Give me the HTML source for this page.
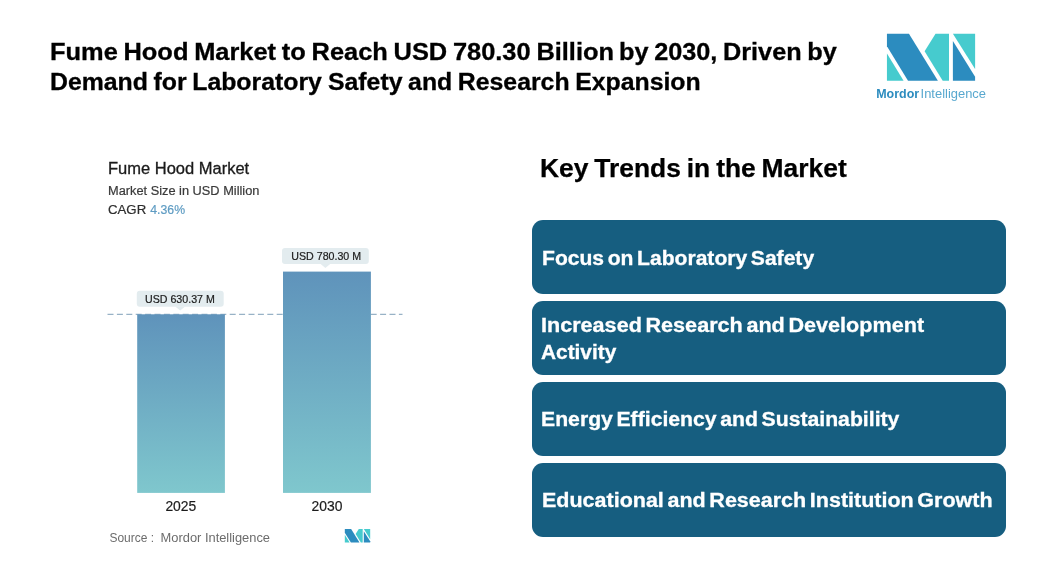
<!DOCTYPE html>
<html lang="en">
<head>
<meta charset="utf-8">
<title>Fume Hood Market</title>
<style>
*{margin:0;padding:0;box-sizing:border-box}
html,body{width:1047px;height:580px;background:#fff;overflow:hidden}
body{position:relative;font-family:"Liberation Sans",sans-serif;color:#000}
.abs{position:absolute;white-space:nowrap}
.ln{position:absolute;white-space:nowrap;transform-origin:0 0;display:block}
h1{font-size:23.3px;line-height:30px;font-weight:bold;color:#000;word-spacing:-1.2px;-webkit-text-stroke:0.3px #000}
#t1{left:49.6px;top:37.3px;transform:scaleX(1.0905)}
#t1b{left:618.5px;top:37.3px;transform:scaleX(1.0835)}
#t2{left:49.84px;top:66.5px;transform:scaleX(1.0654)}
#t2b{left:328.35px;top:66.5px;transform:scaleX(1.0651)}
#logo{left:870px;top:28px;width:130px;height:80px}
#c-title{left:107.5px;top:158.5px;font-size:16px;line-height:20px;color:#1a1a1a;-webkit-text-stroke:0.3px #1a1a1a;transform:scaleX(1.031)}
#c-sub{left:108.2px;top:183px;font-size:12px;line-height:16px;color:#3a3a3a;-webkit-text-stroke:0.2px #3a3a3a;transform:scaleX(1.066)}
#c-cagr{left:108.3px;top:202px;font-size:12.5px;line-height:16px;color:#2e2e2e;-webkit-text-stroke:0.2px #2e2e2e;transform:scaleX(1.058)}
#c-cagr b{font-weight:normal;color:#5f9cc3;-webkit-text-stroke:0.2px #5f9cc3;display:inline-block;transform-origin:0 0;transform:scaleX(0.925);margin-left:0.8px}
#chart{left:100px;top:235px;width:320px;height:320px}
h2{font-size:25.4px;line-height:32px;font-weight:bold;color:#000;word-spacing:-1.4px;-webkit-text-stroke:0.25px #000}
#kt{left:540.4px;top:151.5px;transform:scaleX(1.040)}
.box{position:absolute;left:532px;width:474px;height:73.6px;border-radius:11px;background:#165e80;color:#fff;font-weight:bold;font-size:19.6px;line-height:27.2px;-webkit-text-stroke:0.3px #fff;word-spacing:-2.1px}
.box .ln{left:9.2px}
#b1{top:220.2px}#b2{top:301.1px}#b3{top:382.2px}#b4{top:463.3px}
#b1 .ln{top:24.9px;left:9.6px;transform:scaleX(1.0763)}
#b2 .l1{top:11.1px;transform:scaleX(1.102)}
#b2 .l2{top:38.0px;transform:scaleX(1.063)}
#b3 .ln{top:23.7px;left:9.4px;transform:scaleX(1.0819)}
#b4 .ln{top:23.3px;left:9.5px;transform:scaleX(1.097)}
</style>
</head>
<body>
<h1><span class="ln" id="t1">Fume Hood Market to Reach USD 780.30 Billion </span><span class="ln" id="t1b">by 2030, Driven by</span><span class="ln" id="t2">Demand for Laboratory </span><span class="ln" id="t2b">Safety and Research Expansion</span></h1>

<svg id="logo" class="abs" viewBox="870 28 130 80">
  <polygon points="886.95,33.8 908.96,33.8 937.9,80.85 908,80.85 886.95,46.3" fill="#2c8cbf"/>
  <polygon points="886.95,53.6 903.6,80.85 886.95,80.85" fill="#46cbce"/>
  <polygon points="935.5,33.8 949,33.8 949,80.85 942.7,80.85 924.6,51.2" fill="#46cbce"/>
  <polygon points="952.9,33.8 975.1,33.8 975.1,69" fill="#46cbce"/>
  <polygon points="952.9,41 975.1,76.7 975.1,80.85 952.9,80.85" fill="#2c8cbf"/>
  <text id="lg1" x="876.2" y="97.5" font-family="Liberation Sans, sans-serif" font-size="13" font-weight="bold" fill="#2c8cbf" textLength="43" lengthAdjust="spacingAndGlyphs">Mordor</text>
  <text id="lg2" x="920.6" y="97.5" font-family="Liberation Sans, sans-serif" font-size="13" fill="#58a8cf" textLength="65.4" lengthAdjust="spacingAndGlyphs">Intelligence</text>
</svg>

<div id="c-title" class="ln">Fume Hood Market</div>
<div id="c-sub" class="ln">Market Size in USD Million</div>
<div id="c-cagr" class="ln">CAGR <b>4.36%</b></div>

<svg id="chart" class="abs" viewBox="100 235 320 320">
  <defs>
    <linearGradient id="g" x1="0" y1="0" x2="0" y2="1">
      <stop offset="0" stop-color="#5f93bb"/>
      <stop offset="1" stop-color="#7fc7cd"/>
    </linearGradient>
  </defs>
  <line x1="107.5" y1="314.3" x2="402.5" y2="314.3" stroke="#7f9fb8" stroke-width="1" stroke-dasharray="6 3.4"/>
  <rect x="137.2" y="314.3" width="87.7" height="178.6" fill="url(#g)"/>
  <rect x="283" y="271.6" width="87.9" height="221.3" fill="url(#g)"/>
  <rect x="136.8" y="290.7" width="86.9" height="16" rx="3" fill="#e3ecef"/>
  <polygon points="175.2,306.6 185.2,306.6 180.2,310.6" fill="#e3ecef"/>
  <rect x="282" y="248.1" width="86.8" height="16" rx="3" fill="#e3ecef"/>
  <polygon points="320.6,264 330.2,264 325.4,268" fill="#e3ecef"/>
  <g font-family="Liberation Sans, sans-serif" fill="#1c1c1c" stroke="#1c1c1c" stroke-width="0.2">
    <text id="p1" x="145" y="302.8" font-size="10.6" textLength="69.8" lengthAdjust="spacingAndGlyphs">USD 630.37 M</text>
    <text id="p2" x="291.3" y="260.1" font-size="10.6" textLength="69.8" lengthAdjust="spacingAndGlyphs">USD 780.30 M</text>
    <text id="y1" x="165.4" y="511.2" font-size="14" textLength="30.9" lengthAdjust="spacingAndGlyphs">2025</text>
    <text id="y2" x="311.5" y="511.2" font-size="14" textLength="30.9" lengthAdjust="spacingAndGlyphs">2030</text>
    <text id="src" x="109.4" y="542.3" font-size="12" fill="#6c6c6c" stroke="none" textLength="44.6" lengthAdjust="spacingAndGlyphs">Source :</text>
    <text id="src2" x="160.6" y="542.3" font-size="12" fill="#6c6c6c" stroke="none" textLength="109.4" lengthAdjust="spacingAndGlyphs">Mordor Intelligence</text>
  </g>
  <g transform="translate(344.8 529.1) scale(0.288 0.286) translate(-886.95 -33.8)">
    <polygon points="886.95,33.8 908.96,33.8 937.9,80.6 908,80.6 886.95,46.3" fill="#2c8cbf"/>
    <polygon points="886.95,53.6 903.6,80.6 886.95,80.6" fill="#46cbce"/>
    <polygon points="935.5,33.8 949,33.8 949,80.6 942.7,80.6 924.6,51.2" fill="#46cbce"/>
    <polygon points="952.9,33.8 975.1,33.8 975.1,69" fill="#46cbce"/>
    <polygon points="952.9,41 975.1,76.7 975.1,80.6 952.9,80.6" fill="#2c8cbf"/>
  </g>
</svg>

<h2><span class="ln" id="kt">Key Trends in the Market</span></h2>
<div class="box" id="b1"><span class="ln">Focus on Laboratory Safety</span></div>
<div class="box" id="b2"><span class="ln l1">Increased Research and Development</span><span class="ln l2">Activity</span></div>
<div class="box" id="b3"><span class="ln">Energy Efficiency and Sustainability</span></div>
<div class="box" id="b4"><span class="ln">Educational and Research Institution Growth</span></div>
</body>
</html>
